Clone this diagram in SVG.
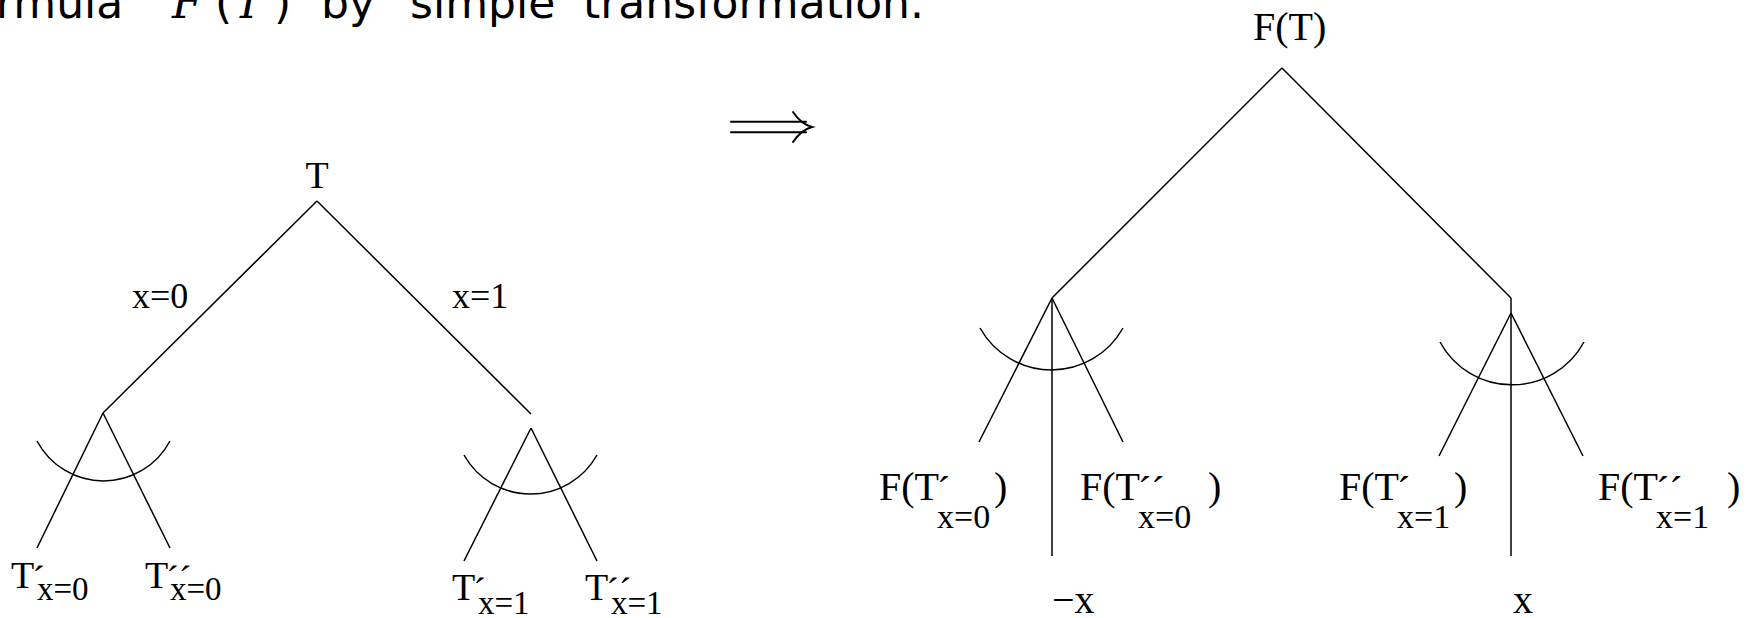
<svg xmlns="http://www.w3.org/2000/svg" width="1749" height="618" viewBox="0 0 1749 618">
<style>
.ln{stroke:#000;stroke-width:1.5;fill:none;stroke-linecap:butt}
.ar{stroke:#000;stroke-width:2;fill:none;stroke-linecap:round}
.s{font-family:"Liberation Serif","Times New Roman",serif;fill:#000}
.m{font-size:40px}
.sub{font-size:34px}
.lt{font-size:38px}
.lsub{font-size:33px}
.hd{font-family:"DejaVu Sans","Liberation Sans",sans-serif;font-size:44px;fill:#000}
.mi{font-family:"DejaVu Serif","Liberation Serif",serif;font-style:italic}
</style>
<rect width="1749" height="618" fill="#fff"/>
<g id="heading">
<text class="hd" y="18"><tspan x="-4">rmula</tspan><tspan class="mi" x="172">F</tspan><tspan x="215">(</tspan><tspan class="mi" x="234">T</tspan><tspan x="274">)</tspan><tspan x="321">by</tspan><tspan x="410">simple</tspan><tspan x="583">transformation.</tspan></text>
</g>
<g id="implies">
<line class="ar" x1="731" y1="121.7" x2="806" y2="121.7"/>
<line class="ar" x1="731" y1="132.3" x2="806" y2="132.3"/>
<path class="ar" d="M793,112 Q801,124 812,127 Q801,130 793,142"/>
</g>
<g id="connectors">
<line class="ln" x1="317" y1="201" x2="103" y2="413"/>
<line class="ln" x1="317" y1="201" x2="531" y2="414"/>
<line class="ln" x1="1282" y1="68" x2="1052" y2="298"/>
<line class="ln" x1="1282" y1="68" x2="1511" y2="298"/>
</g>
<g id="node-T">
<text class="s lt" x="317" y="188" text-anchor="middle">T</text>
<text class="s" font-size="36" x="132" y="308">x=0</text>
<text class="s" font-size="36" x="452" y="308">x=1</text>
</g>
<g id="node-T-x0">
<line class="ln" x1="103" y1="413" x2="37" y2="548"/>
<line class="ln" x1="103" y1="413" x2="170" y2="548"/>
<path class="ln" d="M37,441 A75.3,75.3 0 0 0 170,441"/>
<text class="s lt" x="11" y="588">T<tspan dx="-2" dy="4">´</tspan><tspan class="lsub" x="37" dy="8">x=0</tspan></text>
<text class="s lt" x="145" y="588">T<tspan dx="-2" dy="4">´´</tspan><tspan class="lsub" x="170" dy="8">x=0</tspan></text>
</g>
<g id="node-T-x1">
<line class="ln" x1="531" y1="428" x2="464" y2="561"/>
<line class="ln" x1="531" y1="428" x2="597" y2="561"/>
<path class="ln" d="M464,455 A76.2,76.2 0 0 0 597,455"/>
<text class="s lt" x="452" y="600">T<tspan dx="-2" dy="4">´</tspan><tspan class="lsub" x="478" dy="10">x=1</tspan></text>
<text class="s lt" x="585" y="600">T<tspan dx="-2" dy="4">´´</tspan><tspan class="lsub" x="611" dy="10">x=1</tspan></text>
</g>
<g id="node-FT">
<text class="s m" x="1253" y="40">F(T)</text>
</g>
<g id="node-FT-x0">
<line class="ln" x1="1052" y1="298" x2="979" y2="442"/>
<line class="ln" x1="1052" y1="298" x2="1123" y2="442"/>
<line class="ln" x1="1052" y1="298" x2="1052" y2="556"/>
<path class="ln" d="M980,328 A81.9,81.9 0 0 0 1123,328"/>
<text class="s m" x="879" y="500">F(T<tspan dx="-2" dy="4">´</tspan><tspan class="sub" x="937" dy="24">x=0</tspan><tspan x="994" dy="-28">)</tspan></text>
<text class="s m" x="1080" y="500">F(T<tspan dx="-2" dy="4">´´</tspan><tspan class="sub" x="1138" dy="24">x=0</tspan><tspan x="1208" dy="-28">)</tspan></text>
<text class="s m" x="1052" y="613">−x</text>
</g>
<g id="node-FT-x1">
<line class="ln" x1="1511" y1="313" x2="1439" y2="456"/>
<line class="ln" x1="1511" y1="313" x2="1583" y2="456"/>
<line class="ln" x1="1511" y1="298" x2="1511" y2="556"/>
<path class="ln" d="M1440,342 A81.9,81.9 0 0 0 1584,342"/>
<text class="s m" x="1339" y="500">F(T<tspan dx="-2" dy="4">´</tspan><tspan class="sub" x="1397" dy="24">x=1</tspan><tspan x="1454" dy="-28">)</tspan></text>
<text class="s m" x="1598" y="500">F(T<tspan dx="-2" dy="4">´´</tspan><tspan class="sub" x="1656" dy="24">x=1</tspan><tspan x="1727" dy="-28">)</tspan></text>
<text class="s m" x="1513" y="613">x</text>
</g>
</svg>
